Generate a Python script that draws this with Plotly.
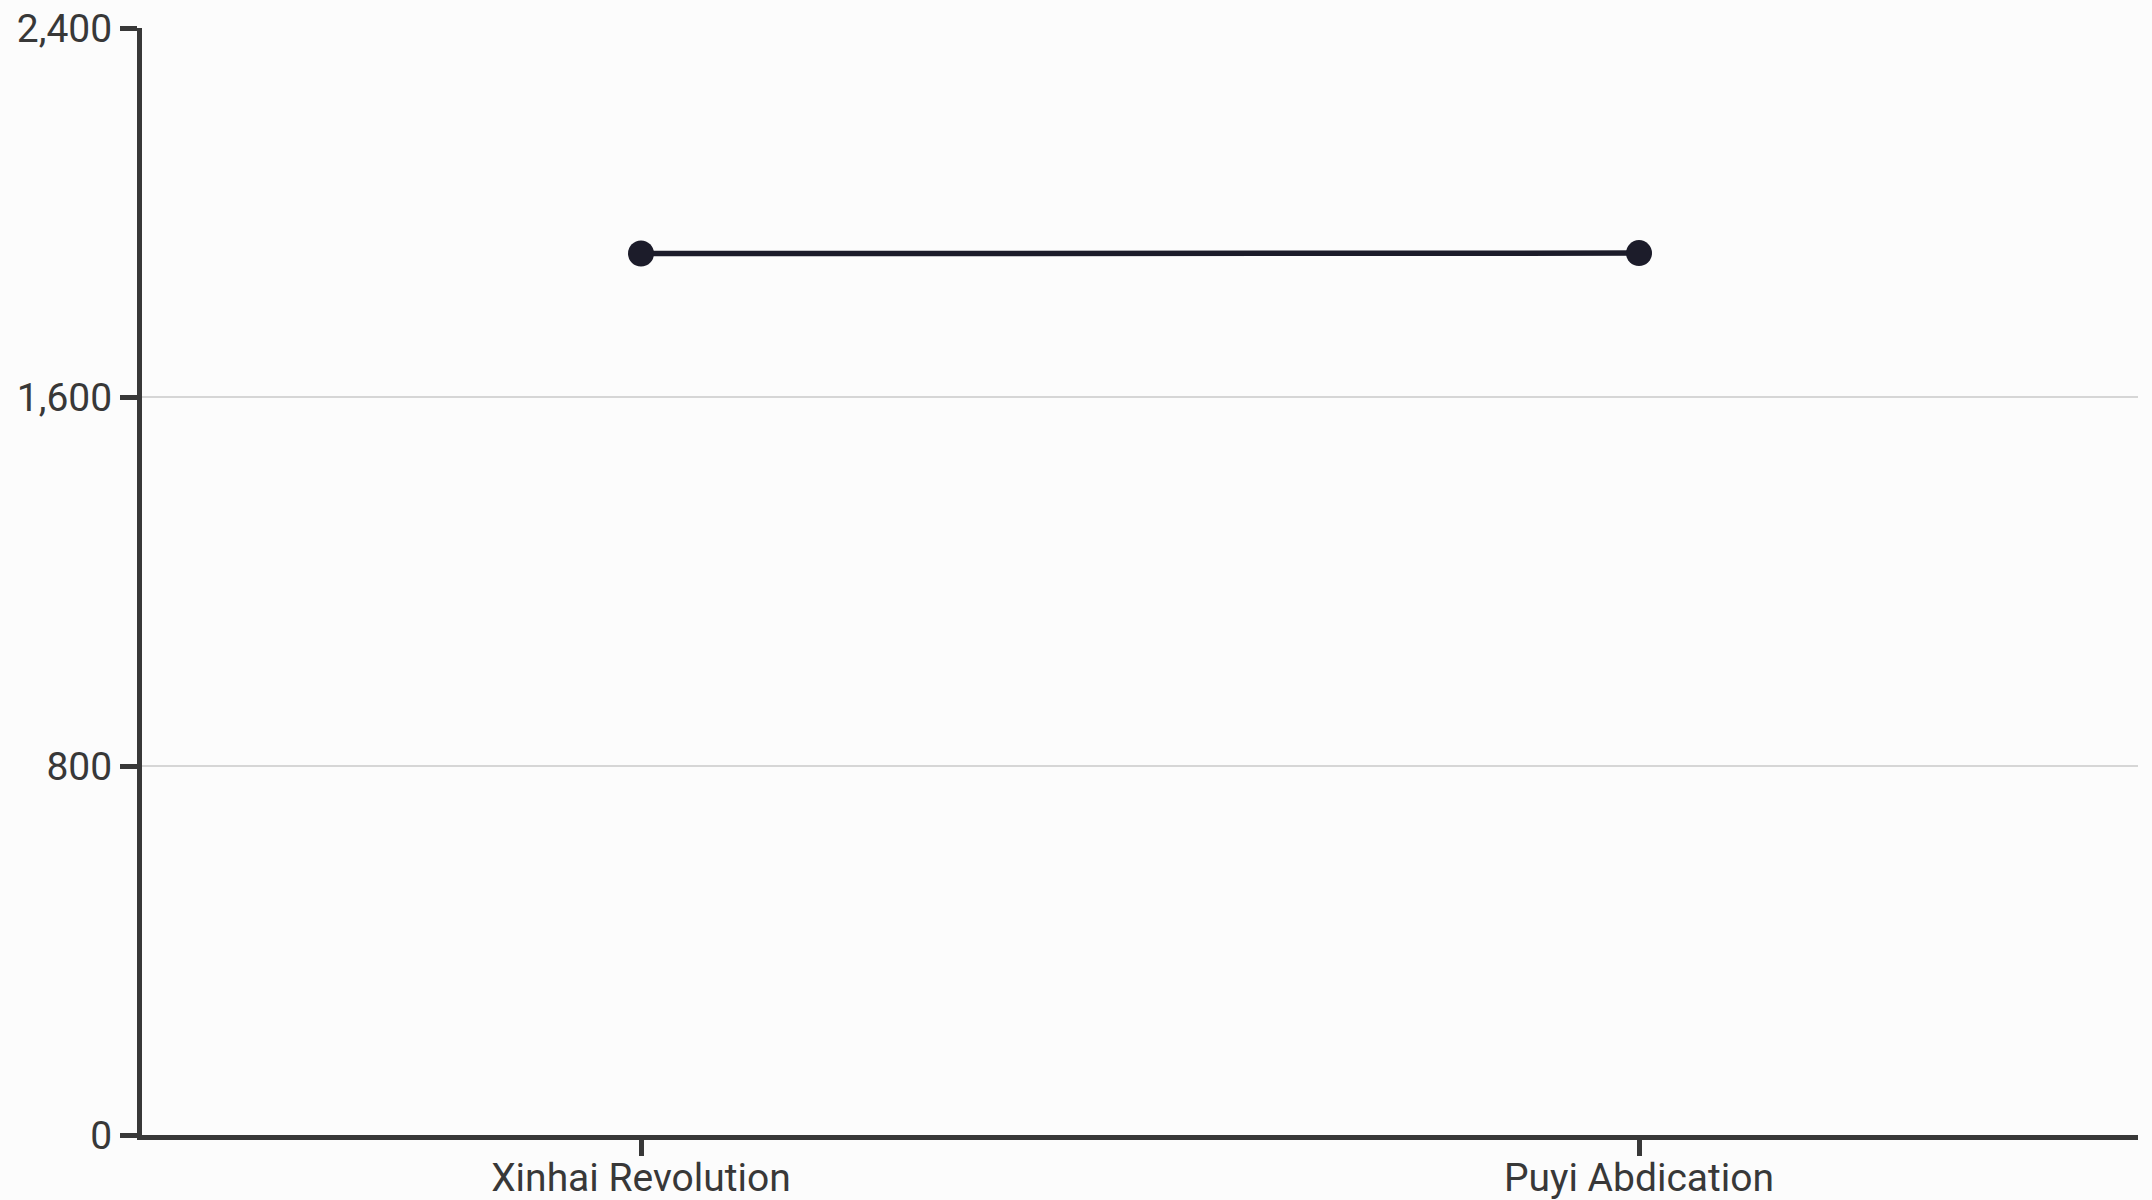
import plotly.graph_objects as go

categories = ["Xinhai Revolution", "Puyi Abdication"]
values = [1911, 1912]
y_ticks = [0, 800, 1600, 2400]

axis_color = "#383838"
fig = go.Figure()
fig.add_trace(go.Scatter(
    x=categories, y=values, mode="lines+markers",
    line=dict(color="#1c1c2a", width=5.5),
    marker=dict(color="#1c1c2a", size=26),
    cliponaxis=False, showlegend=False,
))
fig.update_layout(
    width=2152, height=1200,
    margin=dict(l=142, r=14, t=28, b=65),
    paper_bgcolor="#fcfcfc", plot_bgcolor="#fcfcfc",
    font=dict(family="Roboto", size=39, color=axis_color),
)
fig.update_xaxes(
    type="category", range=[-0.5, 1.5], automargin=False,
    showline=True, linecolor=axis_color, linewidth=5,
    ticks="outside", ticklen=16, tickwidth=5, tickcolor=axis_color,
    ticklabelstandoff=-12,
    showgrid=False, zeroline=False,
)
fig.update_yaxes(
    range=[0, 2400], tickvals=y_ticks, tickformat=",", automargin=False,
    showline=True, linecolor=axis_color, linewidth=5,
    ticks="outside", ticklen=17, tickwidth=5, tickcolor=axis_color,
    showgrid=True, gridcolor="#d6d6d6", gridwidth=2,
    zeroline=False,
)
fig.write_html(
    "out.html",
    config={"displayModeBar": False},
    post_script="document.body.style.margin='0';document.body.style.background='#fcfcfc';",
)
